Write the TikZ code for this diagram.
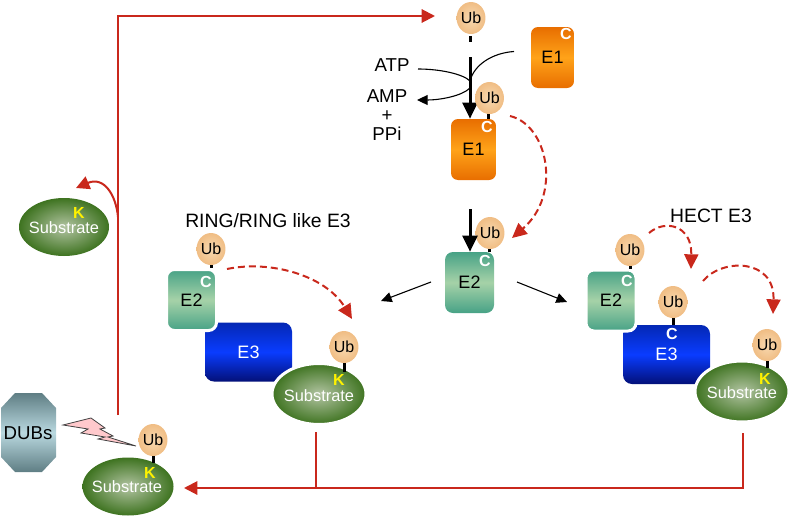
\documentclass[tikz,border=0pt]{standalone}
\usepackage{fontspec}
\setmainfont{Liberation Sans}
\usetikzlibrary{arrows.meta,shapes.geometric}
\definecolor{arrowred}{HTML}{C9281C}
\definecolor{ubin}{HTML}{F8D9B0}
\definecolor{ubout}{HTML}{F0BD84}
\definecolor{e1edge}{HTML}{E86E00}
\definecolor{e1mid}{HTML}{FFA319}
\definecolor{e2edge}{HTML}{47A286}
\definecolor{e2mid}{HTML}{A6D2A8}
\definecolor{e3top}{HTML}{0428B4}
\definecolor{e3mid}{HTML}{0A3CFF}
\definecolor{e3bot}{HTML}{031078}
\definecolor{subin}{HTML}{B2C4A2}
\definecolor{subout}{HTML}{3E7320}
\definecolor{dubedge}{HTML}{5F7E84}
\definecolor{dubmid}{HTML}{B9D8DF}
\definecolor{boltfill}{HTML}{FFC9CC}
\newcommand{\fs}[1]{\fontsize{#1}{#1}\selectfont}
\def\pxu{0.75pt}
\tikzset{
  x=0.75pt,y=-0.75pt,
  ubnode/.style={ellipse,inner sep=0pt,minimum width=26*\pxu,minimum height=32*\pxu,
    inner color=ubin,outer color=ubout,font=\fs{12},text=black},
  e1box/.style={rectangle,rounded corners=7*\pxu,inner sep=0pt,minimum width=44*\pxu,minimum height=61*\pxu,
    top color=e1edge,bottom color=e1edge,middle color=e1mid,font=\fs{13.5},text=black},
  e2box/.style={rectangle,rounded corners=8*\pxu,inner sep=0pt,
    top color=e2edge,bottom color=e2edge,middle color=e2mid,font=\fs{13.5},text=black},
  e2halo/.style={e2box,draw=white,line width=3*\pxu,minimum width=50*\pxu,minimum height=61*\pxu},
  e3box/.style={rectangle,rounded corners=9*\pxu,inner sep=0pt,minimum width=87*\pxu,minimum height=59*\pxu,
    top color=e3top,bottom color=e3bot,middle color=e3mid,font=\fs{13.5},text=white},
  subnode/.style={ellipse,inner sep=0pt,minimum width=91*\pxu,minimum height=58*\pxu,
    inner color=subin,outer color=subout,font=\fs{12.3},text=white},
  subhalo/.style={subnode,draw=white,line width=3*\pxu,minimum width=94*\pxu,minimum height=61*\pxu},
  subtext/.style={font=\fs{12.3},text=white,inner sep=0pt},
  cmark/.style={inner sep=0pt,font=\bfseries\fs{12},text=white},
  kmark/.style={inner sep=0pt,font=\bfseries\fs{12},text=yellow},
  lbl/.style={inner sep=0pt,font=\fs{14},text=black},
  stem/.style={draw=black,line width=3*\pxu},
  flow/.style={draw=arrowred,line width=2*\pxu,-{Triangle[length=10pt,width=10pt,fill=arrowred]}},
  plainred/.style={draw=arrowred,line width=2*\pxu},
  transfer/.style={draw=arrowred,line width=2*\pxu,dash pattern=on 7*\pxu off 4*\pxu,
    -{Triangle[length=11pt,width=10.5pt,fill=arrowred]}},
  thick arrow/.style={draw=black,line width=3*\pxu,-{Triangle[length=12pt,width=11pt]}},
  thin arrow/.style={draw=black,line width=1.1*\pxu,-{Triangle[length=8pt,width=7.5pt]}},
  thin line/.style={draw=black,line width=1.1*\pxu},
}
\begin{document}
\begin{tikzpicture}
\useasboundingbox (0,0) rectangle (789,518);

% Free ubiquitin and E1 charging
\node[ubnode] (ubfree) at (471,18) {Ub};
\coordinate (stemA) at (470,36);
\coordinate (stemB) at (470,42);
\draw[stem] (stemA) -- (stemB);
\node[e1box,minimum width=43*\pxu,minimum height=61*\pxu] (e1free) at (552.5,57.5) {E1};
\node[cmark] (e1freeC) at (566,34) {C};

\node[e1box,minimum width=45*\pxu] (e1act) at (473.5,149.5) {E1};
\node[cmark] (e1actC) at (487,127) {C};

\coordinate (atpEnd) at (418,69);
\coordinate (midA) at (470,81);
\coordinate (midB) at (470,88);
\coordinate (e1End) at (514,51.5);
\coordinate (amEnd) at (417,100);
\coordinate (thickTop) at (470,57);
\draw[thin line] (atpEnd) .. controls (440,69) and (463,74) .. (midA);
\draw[thin line] (e1End) .. controls (492,53) and (474,65) .. (midA);
\draw[thin arrow] (midA) -- (midB) .. controls (462,96) and (440,100) .. (amEnd);
\draw[thick arrow] (thickTop) -- (e1act.north -| thickTop);

\node[ubnode] (ubact) at (489.5,98) {Ub};
\draw[stem] (ubact.south -| 488,0) -- (e1act.north -| 488,0);

\node[lbl] (atp) at (392,65) {ATP};
\node[lbl,align=center] (amp) at (387,115) {AMP\\[0pt]+\\[0pt]PPi};

% Central E2
\node[e2box,minimum width=49*\pxu,minimum height=61*\pxu] (e2mid) at (469.5,282.5) {E2};
\node[cmark] (e2midC) at (485,261) {C};
\node[ubnode] (ubmid) at (490,233) {Ub};
\draw[stem] (ubmid.south -| 489,0) -- (e2mid.north -| 489,0);
\coordinate (e2Top) at (470,209);
\draw[thick arrow] (e2Top) -- (e2mid.north -| e2Top);

\coordinate (tA) at (510,116);
\coordinate (tB) at (512,238);
\draw[transfer] (tA) .. controls (548,125) and (562,195) .. (tB);

\coordinate (lA) at (431,282);
\coordinate (lB) at (381,301);
\coordinate (rA) at (517,282);
\coordinate (rB) at (567,302);
\draw[thin arrow] (lA) -- (lB);
\draw[thin arrow] (rA) -- (rB);

% RING/RING like E3 branch
\node[lbl,font=\fs{14.5}] (ringTitle) at (268,221) {RING/RING like E3};
\node[e3box] (ringE3) at (248.5,352) {E3};
\node[e2halo] (ringE2) at (191.5,300) {E2};
\node[cmark] (ringC) at (206,282) {C};
\node[ubnode] (ringUb) at (211,249) {Ub};
\draw[stem] (ringUb.south) -- (ringE2.north -| ringUb.south);
\node[subhalo] (ringSub) at (319,394) {};
\node[subtext] (ringSubT) at (319,396) {Substrate};
\node[kmark] (ringK) at (339,380) {K};
\node[ubnode] (ringSubUb) at (344,347) {Ub};
\coordinate (ringStem) at (344,372);
\draw[stem] (ringSubUb.south) -- (ringStem);
\coordinate (rdA) at (227,269);
\coordinate (rdB) at (352,319);
\draw[transfer] (rdA) .. controls (270,260) and (325,275) .. (rdB);

% HECT E3 branch
\node[lbl,font=\fs{14.5}] (hectTitle) at (711,216) {HECT E3};
\node[e3box] (hectE3) at (666.5,354.5) {E3};
\node[e2halo] (hectE2) at (611,300.5) {E2};
\node[cmark] (hectC) at (627,281) {C};
\node[ubnode] (hectUb) at (630,250) {Ub};
\draw[stem] (hectUb.south) -- (hectE2.north -| hectUb.south);
\node[ubnode] (hectE3Ub) at (673,302) {Ub};
\draw[stem] (hectE3Ub.south) -- (hectE3.north -| hectE3Ub.south);
\node[cmark] (hectE3C) at (672,334) {C};
\node[subhalo] (hectSub) at (742,391.5) {};
\node[subtext] (hectSubT) at (742,393) {Substrate};
\node[kmark] (hectK) at (765,379) {K};
\node[ubnode] (hectSubUb) at (767,345) {Ub};
\coordinate (hectStem) at (767,368);
\draw[stem] (hectSubUb.south) -- (hectStem);
\coordinate (hdA) at (649,233);
\coordinate (hdB) at (691,269);
\coordinate (hdC) at (703,281);
\coordinate (hdD) at (773,314);
\draw[transfer] (hdA) .. controls (665,219) and (692,225) .. (hdB);
\draw[transfer] (hdC) .. controls (722,258) and (775,258) .. (hdD);

% Free substrate, DUBs and the recycling path
\node[subnode,minimum width=90*\pxu] (topSub) at (64,227) {};
\node[subtext] (topSubT) at (64,228) {Substrate};
\node[kmark] (topK) at (79,213) {K};

\node[subnode] (botSub) at (128,486.5) {};
\node[subtext] (botSubT) at (127,487) {Substrate};
\node[kmark] (botK) at (150,473) {K};
\node[ubnode] (botUb) at (153,440) {Ub};
\coordinate (botStem) at (153,463);
\draw[stem] (botUb.south) -- (botStem);

\path[top color=dubedge,bottom color=dubedge,middle color=dubmid]
  (15,393) -- (42,393) -- (56,408) -- (56,457) -- (42,472) -- (15,472) -- (1,457) -- (1,408) -- cycle;
\node[lbl] (dubs) at (28,433) {DUBs};

% Lightning bolt between DUBs and ubiquitin
\draw[draw=black!75,line width=0.8*\pxu,line join=miter,fill=boltfill]
  (63,425) -- (91,418) -- (105,428) -- (100,429) -- (113,436) -- (108,437) -- (136,446)
  -- (98,439) -- (105,437) -- (81,433) -- (88,429) -- cycle;

\coordinate (recA) at (118,415);
\coordinate (recB) at (118,16);
\coordinate (recC) at (435,16);
\draw[flow] (recA) -- (recB) -- (recC);
\coordinate (branchA) at (118,217);
\coordinate (branchB) at (76,188);
\draw[flow] (branchA) .. controls (116,195) and (104,176) .. (branchB);

\coordinate (downA) at (743,433);
\coordinate (downB) at (743,488);
\coordinate (ringDownA) at (316,432);
\coordinate (ringDownB) at (316,488);
\coordinate (botTip) at (184,488);
\draw[flow] (downA) -- (downB) -- (botTip);
\draw[plainred] (ringDownA) -- (ringDownB);
\end{tikzpicture}
\end{document}
